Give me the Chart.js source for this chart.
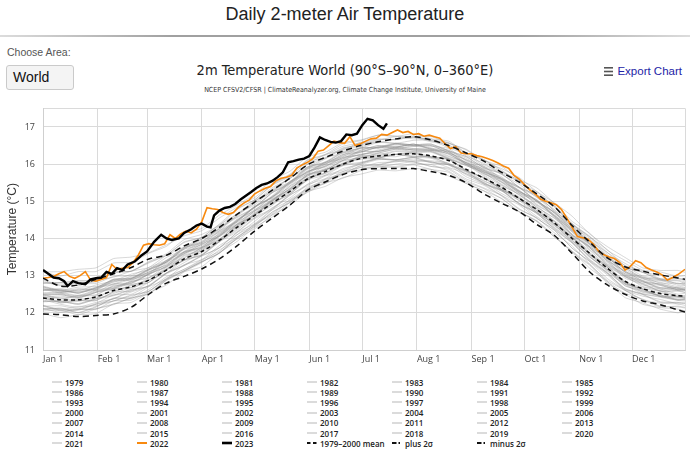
<!DOCTYPE html>
<html><head><meta charset="utf-8">
<script src="https://cdn.jsdelivr.net/npm/chart.js@4.4.1/dist/chart.umd.min.js"></script>
<style>
html,body{margin:0;padding:0;background:#fff;}
body{width:690px;height:451px;position:relative;overflow:hidden;font-family:"Liberation Sans",Arial,sans-serif;}
#hdr{position:absolute;left:0;width:690px;top:4px;text-align:center;font-size:18px;color:#222;}
#rule{position:absolute;left:0;top:35px;width:690px;height:2px;background:linear-gradient(to right,#dcdcdc,#a0a0a0 25%,#a0a0a0 75%,#dcdcdc);}
#choose{position:absolute;left:7px;top:46px;font-size:10.5px;color:#555;}
#sel{position:absolute;left:6px;top:65px;width:60px;height:23px;border:1px solid #cacaca;border-radius:3px;background:#f4f4f4;font-size:14px;line-height:23px;padding-left:6px;color:#111;}
#ctitle{position:absolute;left:0;width:690px;top:62px;text-align:center;font-family:"DejaVu Sans Condensed","DejaVu Sans",sans-serif;font-stretch:condensed;font-size:14.5px;color:#222;}
#csub{position:absolute;left:0;width:690px;top:86px;text-align:center;font-family:"DejaVu Sans Condensed","DejaVu Sans",sans-serif;font-stretch:condensed;font-size:7px;color:#333;}
#export{position:absolute;right:8px;top:64px;height:14px;display:flex;align-items:center;white-space:nowrap;font-family:"Liberation Sans Narrow","Liberation Sans",sans-serif;font-stretch:condensed;font-size:11.5px;color:#2323a6;}
#export svg{margin-right:4px;flex:none;}
#wrap{position:absolute;left:0;top:95px;width:690px;height:275px;}
#legend{position:absolute;left:52px;top:377px;display:grid;grid-template-columns:repeat(7,85px);grid-auto-rows:10.2px;font-family:"Open Sans",sans-serif;font-weight:600;font-size:8px;color:#222;}
.li{display:flex;align-items:center;white-space:nowrap;height:10.2px;}
.li svg{flex:none;margin-right:3px;}
</style>
</head>
<body>
<div id="hdr">Daily 2-meter Air Temperature</div>
<div id="rule"></div>
<div id="choose">Choose Area:</div>
<div id="sel">World</div>
<div id="ctitle">2m Temperature World (90°S–90°N, 0–360°E)</div>
<div id="csub">NCEP CFSV2/CFSR | ClimateReanalyzer.org, Climate Change Institute, University of Maine</div>
<div id="export"><svg width="9" height="9"><rect x="0" y="0" width="9" height="1.6" fill="#555"/><rect x="0" y="3.7" width="9" height="1.6" fill="#555"/><rect x="0" y="7.4" width="9" height="1.6" fill="#555"/></svg>Export Chart</div>
<div id="wrap"><canvas id="c"></canvas></div>
<div id="legend"></div>
<script>
// ---------- axis / category data ----------
const monthTickDays = [0,31,59,90,120,151,181,212,243,273,304,334];
const monthTickLabels = ['Jan 1','Feb 1','Mar 1','Apr 1','May 1','Jun 1','Jul 1','Aug 1','Sep 1','Oct 1','Nov 1','Dec 1'];
const yTickValues = [11,12,13,14,15,16,17];

// ---------- sample days (day of year, 0 = Jan 1) ----------
const keyDays = [0,10,20,30,40,50,60,70,80,90,100,110,120,130,140,150,160,170,180,190,200,210,220,230,240,250,260,270,280,290,300,310,320,330,340,350,360,364];

// ---------- climatology (1979-2000) ----------
const mean7900 = [12.40,12.35,12.35,12.43,12.60,12.70,12.88,13.15,13.45,13.65,13.95,14.30,14.62,14.95,15.27,15.60,15.80,16.00,16.15,16.22,16.26,16.28,16.22,16.10,15.86,15.62,15.38,15.08,14.78,14.42,14.00,13.60,13.20,12.85,12.65,12.52,12.46,12.45];
const plus2sigma = [12.93,12.72,12.75,12.90,13.05,13.22,13.45,13.55,13.80,14.00,14.30,14.65,14.98,15.30,15.62,15.98,16.18,16.35,16.50,16.60,16.68,16.74,16.65,16.50,16.30,16.08,15.78,15.52,15.20,14.85,14.35,13.90,13.48,13.24,13.12,13.02,12.94,12.90];
const minus2sigma = [11.97,11.95,11.90,11.93,11.97,12.15,12.50,12.80,12.98,13.18,13.45,13.80,14.20,14.55,14.90,15.30,15.52,15.72,15.85,15.88,15.88,15.88,15.80,15.70,15.50,15.20,14.95,14.72,14.38,14.08,13.60,13.10,12.75,12.50,12.32,12.22,12.08,12.02];

// ---------- 2022 ----------
const days2022 = [0,3,6,9,12,15,18,21,24,27,30,33,36,39,42,45,48,51,54,57,60,63,66,69,72,75,78,81,84,87,90,93,96,99,102,105,108,111,114,117,120,123,126,129,132,135,138,141,144,147,150,153,156,159,162,165,168,171,174,177,180,183,186,189,192,195,198,201,204,207,210,213,216,219,222,225,228,231,234,237,240,243,246,249,252,255,258,261,264,267,270,273,276,279,282,285,288,291,294,297,300,303,306,309,312,315,318,321,324,327,330,333,336,339,342,345,348,351,354,357,360,364];
const temp2022 = [12.93,12.95,12.98,13.05,13.11,12.98,12.93,13.00,13.11,12.88,12.85,12.90,12.95,13.30,13.17,13.20,13.22,13.35,13.55,13.82,13.86,13.83,13.82,13.86,14.10,14.00,14.12,14.20,14.15,14.25,14.45,14.83,14.80,14.78,14.70,14.65,14.70,14.85,14.96,15.04,15.20,15.28,15.35,15.40,15.55,15.62,15.65,15.70,15.90,15.98,16.05,16.15,16.35,16.38,16.50,16.62,16.58,16.56,16.74,16.50,16.55,16.62,16.68,16.70,16.80,16.78,16.85,16.92,16.85,16.88,16.80,16.82,16.75,16.78,16.74,16.70,16.55,16.42,16.47,16.30,16.28,16.28,16.23,16.20,16.15,16.10,16.03,15.95,15.89,15.70,15.60,15.45,15.31,15.20,15.06,15.00,14.96,14.91,14.78,14.55,14.30,14.05,14.02,13.98,13.85,13.66,13.56,13.50,13.46,13.35,13.15,13.25,13.40,13.35,13.22,13.15,13.10,13.02,12.88,12.95,13.03,13.17];

// ---------- 2023 ----------
const days2023 = [0,3,6,9,12,14,17,20,24,27,30,33,36,39,42,45,48,52,56,59,63,67,70,73,77,80,84,87,90,93,95,97,100,103,106,109,112,115,118,121,124,127,130,133,136,139,142,145,148,151,154,157,160,163,166,169,172,175,178,181,184,187,190,193,195];
const temp2023 = [13.15,13.05,12.95,12.93,12.85,12.72,12.85,12.80,12.77,12.90,12.93,12.95,13.10,13.05,13.20,13.15,13.30,13.38,13.55,13.65,13.91,14.10,14.00,13.96,14.00,14.15,14.25,14.35,14.40,14.32,14.30,14.62,14.75,14.82,14.85,14.93,15.05,15.15,15.25,15.36,15.44,15.48,15.55,15.65,15.78,16.05,16.08,16.12,16.15,16.22,16.45,16.72,16.65,16.60,16.58,16.62,16.80,16.78,16.82,17.05,17.22,17.18,17.05,16.95,17.10];

// ---------- individual years 1979-2021 (read on the keyDays grid) ----------
const t1979 = [12.10,12.13,12.00,12.15,12.40,12.38,12.63,12.97,13.17,13.43,13.65,14.10,14.36,14.77,15.03,15.30,15.58,15.73,15.95,15.97,16.08,16.06,15.94,15.89,15.60,15.43,15.14,14.78,14.56,14.15,13.80,13.31,12.87,12.60,12.35,12.16,12.18,12.15];
const t1980 = [12.45,12.27,12.33,12.33,12.56,12.73,12.82,13.17,13.42,13.57,13.95,14.25,14.66,14.93,15.20,15.61,15.76,16.03,16.13,16.16,16.28,16.27,16.17,16.13,15.83,15.63,15.32,15.10,14.76,14.35,14.00,13.51,13.17,12.73,12.60,12.44,12.36,12.37];
const t1981 = [12.35,12.23,12.15,12.28,12.38,12.60,12.72,13.07,13.27,13.53,13.75,14.16,14.53,14.78,15.16,15.45,15.61,15.88,15.99,16.12,16.12,16.10,16.09,16.02,15.71,15.51,15.21,14.95,14.59,14.28,13.90,13.44,13.08,12.65,12.51,12.44,12.34,12.35];
const t1982 = [12.05,12.07,11.95,12.11,12.24,12.40,12.50,12.89,13.13,13.37,13.61,14.04,14.32,14.71,14.97,15.38,15.54,15.80,15.91,16.04,16.06,16.14,16.04,16.00,15.74,15.56,15.30,15.08,14.74,14.46,14.02,13.68,13.26,12.97,12.75,12.68,12.60,12.60];
const t1983 = [12.68,12.57,12.65,12.63,12.86,12.88,13.10,13.29,13.63,13.75,14.09,14.38,14.74,14.99,15.35,15.62,15.86,15.98,16.18,16.18,16.26,16.22,16.19,16.02,15.81,15.50,15.30,14.94,14.68,14.26,13.88,13.42,13.06,12.65,12.50,12.30,12.28,12.29];
const t1984 = [12.20,12.07,12.10,12.09,12.32,12.34,12.58,12.91,13.13,13.38,13.60,14.01,14.37,14.64,15.01,15.27,15.52,15.76,15.85,15.96,15.94,16.01,15.99,15.81,15.52,15.34,15.07,14.72,14.48,14.08,13.62,13.28,12.80,12.50,12.23,12.14,12.10,12.05];
const t1985 = [11.98,11.87,11.95,11.98,12.24,12.28,12.54,12.75,13.10,13.24,13.62,13.92,14.30,14.58,14.97,15.24,15.49,15.62,15.82,15.93,15.91,15.98,15.86,15.78,15.48,15.28,15.08,14.72,14.46,14.04,13.66,13.20,12.84,12.41,12.27,12.10,12.00,12.05];
const t1986 = [12.18,12.05,12.09,12.23,12.32,12.46,12.58,12.93,13.17,13.40,13.75,14.03,14.39,14.67,15.05,15.34,15.60,15.75,15.96,15.99,16.09,16.07,16.07,15.91,15.74,15.46,15.28,14.94,14.70,14.30,13.94,13.50,13.16,12.77,12.63,12.46,12.43,12.40];
const t1987 = [12.40,12.41,12.31,12.45,12.58,12.75,12.88,13.19,13.42,13.71,13.97,14.38,14.66,15.05,15.33,15.72,15.88,16.14,16.25,16.34,16.42,16.39,16.37,16.28,15.99,15.79,15.58,15.23,14.97,14.64,14.18,13.84,13.40,13.11,12.87,12.77,12.67,12.68];
const t1988 = [12.62,12.63,12.53,12.67,12.76,12.90,13.02,13.33,13.57,13.81,14.05,14.44,14.70,15.07,15.33,15.70,15.84,16.08,16.17,16.28,16.26,16.32,16.20,16.12,15.82,15.62,15.32,15.06,14.70,14.38,13.90,13.54,13.08,12.77,12.51,12.42,12.34,12.34];
const t1989 = [12.10,12.11,12.01,12.17,12.38,12.42,12.70,12.91,13.29,13.43,13.81,14.10,14.46,14.83,15.09,15.46,15.70,15.84,16.03,16.14,16.12,16.18,16.16,15.98,15.78,15.48,15.28,15.02,14.66,14.34,13.96,13.50,13.14,12.73,12.57,12.48,12.36,12.38];
const t1990 = [12.42,12.45,12.39,12.55,12.66,12.84,12.96,13.18,13.55,13.70,14.07,14.37,14.64,15.04,15.31,15.71,15.86,16.01,16.23,16.25,16.36,16.33,16.34,16.17,16.00,15.71,15.42,15.19,14.84,14.55,14.08,13.75,13.30,13.02,12.77,12.59,12.60,12.55];
const t1991 = [12.48,12.37,12.45,12.47,12.72,12.76,12.88,13.23,13.47,13.75,13.99,14.28,14.68,14.95,15.23,15.62,15.74,15.98,16.05,16.16,16.12,16.18,16.06,15.98,15.66,15.46,15.16,14.90,14.54,14.22,13.74,13.38,13.02,12.61,12.45,12.36,12.24,12.26];
const t1992 = [12.20,12.09,12.17,12.19,12.32,12.48,12.58,12.89,13.13,13.37,13.61,14.00,14.26,14.63,14.89,15.26,15.40,15.64,15.73,15.84,15.82,15.88,15.86,15.68,15.48,15.28,14.98,14.72,14.46,14.04,13.66,13.30,12.84,12.53,12.37,12.18,12.16,12.13];
const t1993 = [12.12,12.01,12.09,12.11,12.22,12.40,12.52,12.87,13.11,13.35,13.69,13.98,14.34,14.71,14.97,15.34,15.48,15.72,15.91,15.92,16.00,16.06,15.94,15.86,15.56,15.36,15.16,14.80,14.54,14.22,13.74,13.38,12.92,12.61,12.35,12.26,12.24,12.20];
const t1994 = [12.18,12.19,12.11,12.25,12.48,12.50,12.74,13.07,13.29,13.55,13.91,14.18,14.56,14.81,15.19,15.58,15.70,15.96,16.03,16.16,16.26,16.20,16.20,16.00,15.82,15.64,15.32,15.08,14.70,14.40,14.04,13.56,13.22,12.79,12.65,12.58,12.44,12.45];
const t1995 = [12.52,12.53,12.45,12.59,12.68,12.84,12.94,13.27,13.49,13.75,13.97,14.38,14.62,15.01,15.25,15.64,15.76,16.02,16.21,16.22,16.34,16.30,16.32,16.14,15.98,15.68,15.36,15.12,14.74,14.44,13.94,13.60,13.12,12.83,12.55,12.48,12.34,12.37];
const t1996 = [12.30,12.31,12.23,12.37,12.46,12.62,12.72,13.05,13.27,13.53,13.75,14.16,14.40,14.79,15.17,15.42,15.68,15.80,16.01,16.14,16.10,16.18,16.04,15.98,15.80,15.48,15.30,14.92,14.68,14.24,13.88,13.40,13.06,12.63,12.49,12.28,12.28,12.25];
const t1997 = [12.30,12.31,12.23,12.37,12.52,12.68,12.82,13.15,13.41,13.67,13.93,14.34,14.62,15.01,15.29,15.68,15.84,16.10,16.27,16.30,16.40,16.38,16.38,16.28,16.00,15.82,15.60,15.26,15.02,14.68,14.22,13.88,13.50,13.11,12.97,12.80,12.80,12.75];
const t1998 = [12.80,12.81,12.73,12.87,12.96,13.12,13.22,13.55,13.77,14.03,14.25,14.66,14.90,15.29,15.53,15.92,16.04,16.30,16.37,16.50,16.46,16.54,16.40,16.34,16.02,15.84,15.52,15.28,14.90,14.60,14.10,13.76,13.28,12.99,12.71,12.64,12.50,12.53];
const t1999 = [12.40,12.27,12.33,12.33,12.56,12.58,12.82,13.17,13.41,13.55,13.93,14.22,14.62,14.89,15.29,15.56,15.84,15.98,16.21,16.22,16.20,16.30,16.18,16.14,15.84,15.54,15.38,15.02,14.80,14.38,14.04,13.58,13.26,12.85,12.59,12.54,12.42,12.44];
const t2000 = [12.32,12.33,12.25,12.39,12.48,12.64,12.88,13.07,13.43,13.55,13.91,14.32,14.56,14.95,15.19,15.58,15.84,15.96,16.17,16.16,16.26,16.20,16.20,16.14,15.82,15.64,15.32,15.08,14.70,14.40,14.04,13.56,13.22,12.79,12.65,12.44,12.44,12.41];
const t2001 = [12.50,12.51,12.43,12.57,12.66,12.82,13.06,13.25,13.61,13.73,14.09,14.50,14.74,15.13,15.37,15.76,16.02,16.14,16.35,16.34,16.44,16.38,16.38,16.32,16.00,15.82,15.50,15.26,15.02,14.58,14.22,13.74,13.40,12.97,12.83,12.76,12.62,12.63];
const t2002 = [12.66,12.55,12.63,12.65,12.90,12.94,13.06,13.41,13.65,13.93,14.17,14.46,14.86,15.13,15.53,15.80,15.94,16.22,16.31,16.46,16.44,16.54,16.42,16.38,16.08,15.78,15.62,15.26,15.04,14.62,14.28,13.82,13.50,13.09,12.83,12.78,12.66,12.67];
const t2003 = [12.72,12.61,12.69,12.71,12.82,12.98,13.08,13.41,13.63,13.89,14.11,14.52,14.76,15.15,15.53,15.78,16.04,16.16,16.37,16.50,16.46,16.54,16.40,16.34,16.16,15.84,15.66,15.28,15.04,14.60,14.24,13.90,13.42,13.13,12.85,12.68,12.68,12.63];
const t2004 = [12.54,12.55,12.47,12.61,12.70,12.86,13.10,13.29,13.65,13.77,14.13,14.40,14.78,15.03,15.41,15.80,15.92,16.18,16.25,16.38,16.48,16.42,16.42,16.22,16.04,15.86,15.54,15.30,14.92,14.62,14.12,13.78,13.44,13.01,12.87,12.66,12.66,12.62];
const t2005 = [12.62,12.65,12.59,12.75,12.86,13.04,13.16,13.37,13.75,13.89,14.27,14.56,14.82,15.23,15.49,15.90,16.04,16.32,16.41,16.42,16.54,16.50,16.52,16.34,16.04,15.88,15.58,15.36,15.00,14.72,14.24,13.78,13.46,13.05,12.93,12.74,12.62,12.65];
const t2006 = [12.48,12.49,12.41,12.55,12.78,12.80,13.04,13.37,13.59,13.85,14.07,14.48,14.86,15.11,15.49,15.74,16.00,16.26,16.33,16.46,16.42,16.50,16.50,16.30,16.12,15.94,15.62,15.38,15.00,14.70,14.34,13.86,13.52,13.09,12.95,12.88,12.74,12.75];
const t2007 = [12.88,12.75,12.79,12.79,12.98,13.00,13.22,13.41,13.75,13.87,14.21,14.48,14.84,15.09,15.45,15.82,15.94,16.18,16.25,16.36,16.44,16.38,16.36,16.16,15.96,15.76,15.44,15.18,14.80,14.48,14.10,13.62,13.26,12.83,12.69,12.60,12.46,12.47];
const t2008 = [12.10,12.11,12.07,12.23,12.38,12.56,12.72,13.07,13.35,13.63,13.91,14.34,14.64,15.03,15.33,15.72,15.84,16.10,16.17,16.30,16.40,16.34,16.34,16.14,15.96,15.78,15.46,15.22,14.84,14.54,14.18,13.70,13.36,12.93,12.79,12.58,12.58,12.55];
const t2009 = [12.50,12.39,12.47,12.49,12.74,12.78,13.04,13.25,13.63,13.77,14.15,14.44,14.84,15.11,15.51,15.78,16.06,16.20,16.43,16.44,16.56,16.52,16.54,16.36,16.20,15.90,15.74,15.38,15.16,14.74,14.40,13.94,13.62,13.21,13.09,12.90,12.92,12.87];
const t2010 = [12.80,12.81,12.85,12.87,13.08,13.12,13.34,13.55,13.89,14.03,14.37,14.66,15.02,15.29,15.65,15.92,16.16,16.30,16.43,16.46,16.52,16.48,16.44,16.26,16.04,15.74,15.52,15.16,14.88,14.46,14.06,13.60,13.22,12.81,12.63,12.44,12.40,12.40];
const t2011 = [12.40,12.29,12.37,12.39,12.64,12.68,12.94,13.15,13.53,13.67,14.05,14.34,14.74,15.01,15.41,15.68,15.96,16.10,16.33,16.34,16.46,16.42,16.38,16.20,16.04,15.74,15.58,15.22,15.00,14.58,14.10,13.78,13.32,13.05,12.79,12.74,12.62,12.63];
const t2012 = [12.48,12.49,12.41,12.55,12.64,12.80,13.04,13.23,13.59,13.85,14.07,14.48,14.86,15.11,15.49,15.88,16.00,16.26,16.33,16.46,16.56,16.50,16.50,16.30,16.12,15.80,15.62,15.38,15.00,14.70,14.20,13.86,13.38,12.99,12.85,12.64,12.64,12.60];
const t2013 = [12.60,12.61,12.53,12.67,12.90,12.92,13.16,13.35,13.71,13.83,14.19,14.46,14.84,15.23,15.47,15.86,15.98,16.24,16.45,16.44,16.54,16.48,16.48,16.42,16.10,15.92,15.60,15.36,15.12,14.68,14.32,13.84,13.50,13.21,12.93,12.86,12.86,12.79];
const t2014 = [12.64,12.53,12.61,12.63,12.88,12.92,13.18,13.39,13.77,13.91,14.29,14.58,14.84,15.25,15.51,15.92,16.06,16.34,16.43,16.58,16.56,16.52,16.54,16.36,16.20,15.90,15.74,15.38,15.16,14.74,14.26,13.94,13.48,13.21,12.95,12.90,12.78,12.79];
const t2015 = [12.60,12.61,12.53,12.67,12.90,12.92,13.16,13.49,13.71,13.97,14.33,14.60,14.98,15.37,15.61,16.00,16.26,16.38,16.59,16.58,16.68,16.76,16.62,16.56,16.38,16.06,15.88,15.64,15.26,14.96,14.60,14.12,13.78,13.49,13.21,13.14,13.14,13.09];
const t2016 = [13.10,13.11,13.17,13.21,13.46,13.50,13.62,13.83,14.07,14.21,14.55,14.84,15.10,15.47,15.73,16.10,16.24,16.48,16.57,16.68,16.66,16.72,16.60,16.52,16.22,16.02,15.72,15.46,15.10,14.78,14.30,13.94,13.48,13.17,12.91,12.82,12.70,12.73];
const t2017 = [12.80,12.81,12.87,12.87,13.10,13.12,13.36,13.55,13.91,14.03,14.39,14.80,15.04,15.43,15.67,16.06,16.18,16.44,16.51,16.64,16.74,16.68,16.68,16.48,16.30,15.98,15.80,15.56,15.18,14.88,14.38,14.04,13.70,13.27,13.13,12.92,12.92,12.88];
const t2018 = [12.70,12.59,12.55,12.69,12.78,12.94,13.18,13.37,13.73,13.99,14.21,14.62,15.00,15.25,15.63,15.88,16.14,16.40,16.47,16.60,16.56,16.64,16.64,16.44,16.26,15.94,15.76,15.52,15.14,14.84,14.34,14.00,13.52,13.23,13.09,12.88,12.88,12.83];
const t2019 = [12.84,12.73,12.81,12.83,13.08,13.12,13.38,13.59,13.97,14.11,14.35,14.78,15.04,15.45,15.71,16.12,16.26,16.54,16.63,16.78,16.76,16.72,16.74,16.56,16.40,16.10,15.94,15.58,15.36,14.94,14.46,14.14,13.68,13.41,13.15,13.10,12.98,13.00];
const t2020 = [13.10,12.99,13.11,13.11,13.34,13.36,13.60,13.79,14.15,14.27,14.63,14.90,15.18,15.57,15.81,16.20,16.32,16.58,16.65,16.78,16.74,16.82,16.68,16.62,16.30,16.12,15.80,15.56,15.18,14.88,14.38,14.04,13.56,13.27,12.99,12.92,12.78,12.81];
const t2021 = [12.70,12.59,12.57,12.61,12.84,12.90,13.14,13.37,13.73,13.99,14.25,14.66,14.94,15.33,15.61,16.00,16.16,16.42,16.53,16.66,16.66,16.74,16.64,16.58,16.30,16.12,15.84,15.50,15.26,14.86,14.40,14.06,13.62,13.33,13.09,13.02,12.92,12.93];

const grayYearLabels = ['1979','1980','1981','1982','1983','1984','1985','1986','1987','1988','1989','1990','1991','1992','1993','1994','1995','1996','1997','1998','1999','2000','2001','2002','2003','2004','2005','2006','2007','2008','2009','2010','2011','2012','2013','2014','2015','2016','2017','2018','2019','2020','2021'];
const grayYearSeries = [t1979,t1980,t1981,t1982,t1983,t1984,t1985,t1986,t1987,t1988,t1989,t1990,t1991,t1992,t1993,t1994,t1995,t1996,t1997,t1998,t1999,t2000,t2001,t2002,t2003,t2004,t2005,t2006,t2007,t2008,t2009,t2010,t2011,t2012,t2013,t2014,t2015,t2016,t2017,t2018,t2019,t2020,t2021];

// ---------- build chart ----------
function pts(days, vals){ return vals.map((v,i)=>({x:days[i], y:v})); }
const ORANGE = '#f7890f';
const datasets = [];
grayYearSeries.forEach((s,i)=>{
  datasets.push({label:grayYearLabels[i], kind:'gray', data:pts(keyDays,s), borderColor:'rgba(140,140,140,0.38)', borderWidth:0.9, pointRadius:0, tension:0.15, order:5});
});
datasets.push({label:'2022', kind:'y2022', data:pts(days2022,temp2022), borderColor:ORANGE, borderWidth:1.6, pointRadius:0, tension:0, order:3});
datasets.push({label:'2023', kind:'y2023', data:pts(days2023,temp2023), borderColor:'#000', borderWidth:2.4, pointRadius:0, tension:0, order:1});
datasets.push({label:'1979–2000 mean', kind:'mean', data:pts(keyDays,mean7900), borderColor:'#111', borderWidth:1.5, borderDash:[4,3], pointRadius:0, tension:0.3, order:2});
datasets.push({label:'plus 2σ', kind:'sigma', data:pts(keyDays,plus2sigma), borderColor:'#111', borderWidth:1.5, borderDash:[6,4], pointRadius:0, tension:0.3, order:2});
datasets.push({label:'minus 2σ', kind:'sigma', data:pts(keyDays,minus2sigma), borderColor:'#111', borderWidth:1.5, borderDash:[6,4], pointRadius:0, tension:0.3, order:2});

const tickFont = {family:'"Open Sans", sans-serif', size:9};
const chart = new Chart(document.getElementById('c'), {
  type:'line',
  data:{datasets},
  options:{
    responsive:true, maintainAspectRatio:false, animation:false, devicePixelRatio:1,
    layout:{padding:{left:0,right:5,top:8,bottom:0}},
    plugins:{legend:{display:false}, tooltip:{enabled:false}},
    scales:{
      x:{type:'linear', min:0, max:364,
        afterBuildTicks:(s)=>{ s.ticks = monthTickDays.concat([364]).map(v=>({value:v})); },
        afterFit:(s)=>{ s.height = 20; },
        ticks:{autoSkip:false, maxRotation:0, minRotation:0, align:'start', padding:4, font:tickFont, color:'#444',
          callback:(v)=>{ const i = monthTickDays.indexOf(v); return i>=0 ? monthTickLabels[i] : ''; }},
        grid:{color:'#dadada', lineWidth:1, drawTicks:false},
        border:{color:'#cfcfcf'}
      },
      y:{type:'linear', min:11, max:17.5,
        afterBuildTicks:(s)=>{ s.ticks = yTickValues.concat([17.5]).map(v=>({value:v})); },
        afterFit:(s)=>{ s.width = 43; },
        ticks:{padding:8, font:tickFont, color:'#444',
          callback:(v)=> yTickValues.includes(v) ? String(v) : ''},
        grid:{color:'#dadada', lineWidth:1, drawTicks:false},
        border:{color:'#cfcfcf'},
        title:{display:true, text:'Temperature (°C)', color:'#333', font:{family:'"Liberation Sans", Arial, sans-serif', size:12}, padding:{top:5,bottom:0}}
      }
    }
  }
});

// ---------- HTML legend from datasets ----------
function symbol(kind){
  const a = 'width="10" height="6" viewBox="0 0 10 6"';
  if(kind==='gray') return `<svg ${a}><line x1="0" y1="3" x2="10" y2="3" stroke="#c4c4c4" stroke-width="1.2"/></svg>`;
  if(kind==='y2022') return `<svg ${a}><line x1="0" y1="3" x2="10" y2="3" stroke="${ORANGE}" stroke-width="2"/></svg>`;
  if(kind==='y2023') return `<svg ${a}><line x1="0" y1="3" x2="10" y2="3" stroke="#000" stroke-width="2.6"/></svg>`;
  if(kind==='mean') return `<svg ${a}><line x1="0" y1="3" x2="10" y2="3" stroke="#111" stroke-width="2" stroke-dasharray="3.5,2.5"/></svg>`;
  return `<svg ${a}><line x1="0" y1="3" x2="10" y2="3" stroke="#111" stroke-width="2" stroke-dasharray="4.5,2,1.5,2"/></svg>`;
}
const leg = document.getElementById('legend');
chart.data.datasets.forEach(ds=>{
  const d = document.createElement('div');
  d.className = 'li';
  d.innerHTML = symbol(ds.kind) + '<span></span>';
  d.querySelector('span').textContent = ds.label;
  leg.appendChild(d);
});
</script>
</body></html>
